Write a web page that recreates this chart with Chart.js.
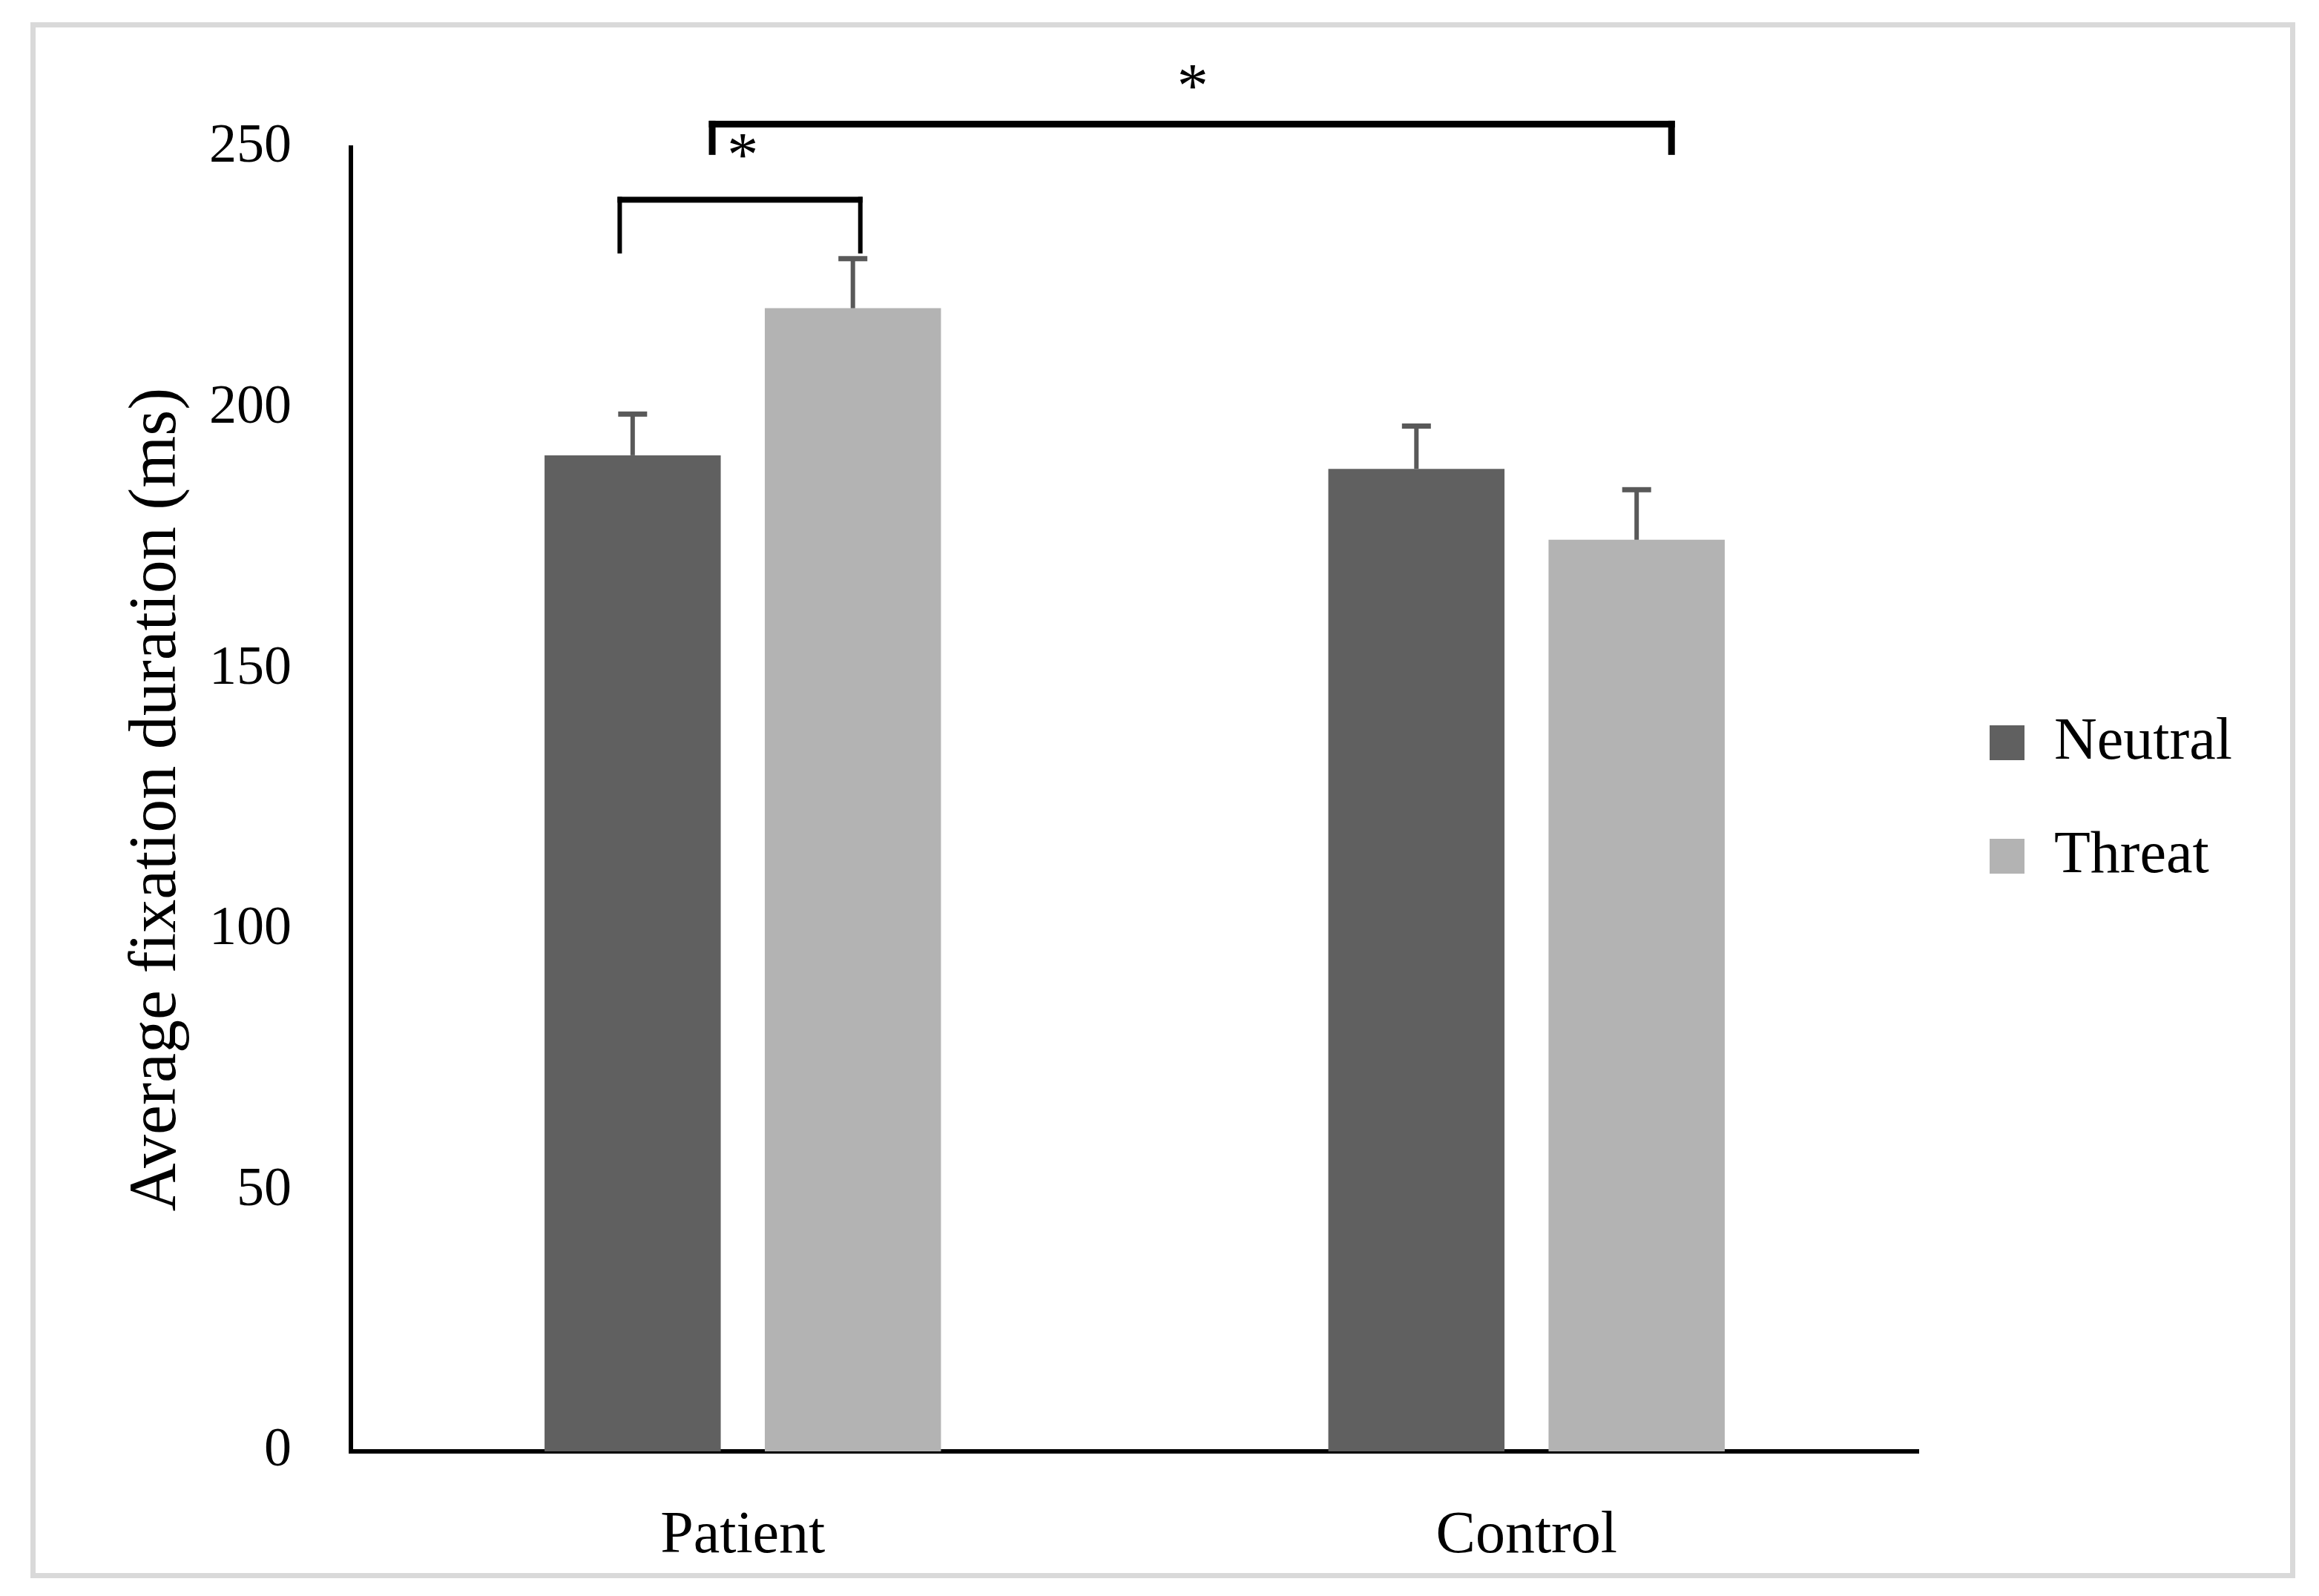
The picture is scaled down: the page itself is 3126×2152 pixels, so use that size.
<!DOCTYPE html>
<html>
<head>
<meta charset="utf-8">
<script src="https://cdn.jsdelivr.net/npm/chart.js@4.4.1/dist/chart.umd.min.js"></script>
<style>
  html, body { margin: 0; padding: 0; background: #ffffff; width: 3126px; height: 2152px; overflow: hidden; }
  #frame { position: absolute; left: 41px; top: 30px; width: 3053px; height: 2098px; box-sizing: border-box; border: 7px solid #d9d9d9; background: #ffffff; }
  #c { display: block; }
</style>
</head>
<body>
<div id="frame"><canvas id="c" width="3039" height="2084"></canvas></div>
<script>
// ---- data ----
const categories = ['Patient', 'Control'];
const seriesNames = ['Neutral', 'Threat'];
const neutralValues = [191.0, 188.4];
const threatValues = [219.2, 174.8];
const neutralSE = [7.9, 8.2];
const threatSE = [9.5, 9.6];
const yTickMin = 0;
const yTickMax = 250;
const yTickStep = 50;

// ---- significance annotations (category-index / value units) ----
const brackets = [
  { from: -0.157, to: 0.150, y: 240.0, legEnd: 229.7, hThick: 8, vThick: 6 },
  { from: -0.039, to: 1.185, y: 254.5, legEnd: 248.6, hThick: 9, vThick: 9 }
];
const stars = [
  { x: 0.0, y: 250.3, text: '*' },
  { x: 0.574, y: 263.5, text: '*' }
];

const SERIF = '"Liberation Serif", "DejaVu Serif", serif';
const neutralColor = '#606060';
const threatColor = '#b3b3b3';
const errColor = '#595959';

const errorBarPlugin = {
  id: 'errorBars',
  afterDatasetsDraw(chart) {
    const ctx = chart.ctx;
    const yScale = chart.scales.y;
    const ses = [neutralSE, threatSE];
    const vals = [neutralValues, threatValues];
    ctx.save();
    ctx.fillStyle = errColor;
    chart.data.datasets.forEach((ds, i) => {
      const meta = chart.getDatasetMeta(i);
      meta.data.forEach((bar, j) => {
        const top = yScale.getPixelForValue(vals[i][j] + ses[i][j]);
        const stemW = 6, capW = 39, capH = 7;
        ctx.fillRect(bar.x - stemW / 2, top, stemW, bar.y - top);
        ctx.fillRect(bar.x - capW / 2, top - capH / 2, capW, capH);
      });
    });
    ctx.restore();
  }
};

const annotationPlugin = {
  id: 'sigAnnotations',
  afterDraw(chart) {
    const ctx = chart.ctx;
    const xs = chart.scales.x, ys = chart.scales.y;
    const p0 = xs.getPixelForValue(0), p1 = xs.getPixelForValue(1);
    const px = f => p0 + f * (p1 - p0);
    ctx.save();
    ctx.fillStyle = '#000000';
    brackets.forEach(b => {
      const xl = px(b.from), xr = px(b.to);
      const yh = ys.getPixelForValue(b.y);
      const yl = ys.getPixelForValue(b.legEnd);
      ctx.fillRect(xl - b.vThick / 2, yh - b.hThick / 2, (xr - xl) + b.vThick, b.hThick);
      ctx.fillRect(xl - b.vThick / 2, yh - b.hThick / 2, b.vThick, yl - (yh - b.hThick / 2));
      ctx.fillRect(xr - b.vThick / 2, yh - b.hThick / 2, b.vThick, yl - (yh - b.hThick / 2));
    });
    ctx.font = '84px ' + SERIF;
    ctx.textAlign = 'center';
    ctx.textBaseline = 'alphabetic';
    stars.forEach(s => {
      const m = ctx.measureText(s.text);
      const cy = ys.getPixelForValue(s.y);
      const base = cy + (m.actualBoundingBoxAscent - m.actualBoundingBoxDescent) / 2;
      ctx.fillText(s.text, px(s.x), base);
    });
    ctx.restore();
  }
};

const LEGEND_W = 478;
const legendWidthPlugin = {
  id: 'legendWidth',
  beforeLayout(chart) {
    const lg = chart.legend;
    if (lg && !lg._fixedW) {
      const orig = lg.fit;
      lg.fit = function () { orig.call(this); this.width = LEGEND_W; };
      lg._fixedW = true;
    }
  }
};

new Chart(document.getElementById('c'), {
  type: 'bar',
  data: {
    labels: categories,
    datasets: [
      { label: seriesNames[0], data: neutralValues, backgroundColor: neutralColor, borderWidth: 0 },
      { label: seriesNames[1], data: threatValues, backgroundColor: threatColor, borderWidth: 0 }
    ]
  },
  options: {
    responsive: false,
    animation: false,
    devicePixelRatio: 1,
    categoryPercentage: 0.562,
    barPercentage: 0.80,
    layout: { padding: { top: 162, left: 0, right: 0, bottom: 0 } },
    plugins: {
      tooltip: { enabled: false },
      legend: {
        position: 'right',
        fullSize: false,
        labels: {
          boxWidth: 47,
          boxHeight: 47,
          padding: 73,
          color: '#000000',
          font: { family: SERIF, size: 80 }
        }
      }
    },
    scales: {
      x: {
        grid: { display: false, drawTicks: false },
        border: { display: true, color: '#000000', width: 6 },
        ticks: { color: '#000000', padding: 67, font: { family: SERIF, size: 80 } },
        afterFit(s) { s.height = 164; }
      },
      y: {
        min: yTickMin,
        max: yTickMax,
        grid: { display: false, drawTicks: false },
        border: { display: true, color: '#000000', width: 6 },
        ticks: { stepSize: yTickStep, color: '#000000', padding: 80, font: { family: SERIF, size: 74 } },
        title: {
          display: true,
          text: 'Average fixation duration (ms)',
          color: '#000000',
          padding: { top: 110, bottom: 0 },
          font: { family: SERIF, size: 90 }
        },
        afterFit(s) { s.width = 425; }
      },
      yR: {
        type: 'linear',
        position: 'right',
        display: true,
        grid: { display: false, drawTicks: false },
        border: { display: false },
        ticks: { display: false },
        afterFit(s) { s.width = 23; }
      }
    }
  },
  plugins: [errorBarPlugin, annotationPlugin, legendWidthPlugin]
});
</script>
</body>
</html>
